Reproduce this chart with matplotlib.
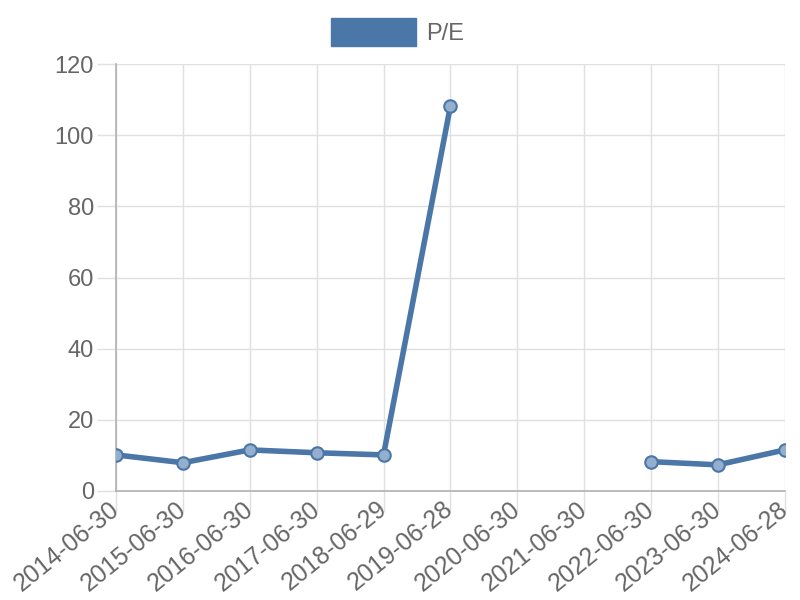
import numpy as np
import matplotlib.pyplot as plt
from matplotlib.patches import Patch

plt.rcParams['font.family'] = ['Liberation Sans', 'DejaVu Sans']

dates = ["2014-06-30", "2015-06-30", "2016-06-30", "2017-06-30", "2018-06-29",
         "2019-06-28", "2020-06-30", "2021-06-30", "2022-06-30", "2023-06-30",
         "2024-06-28"]
pe = [10.1, 7.9, 11.5, 10.7, 10.1, 108.2, np.nan, np.nan, 8.2, 7.3, 11.5]

line_color = "#4a76a8"
text_color = "#666666"

fig = plt.figure(figsize=(8, 6), dpi=100)
ax = fig.add_axes([0.145, 0.182, 0.836, 0.711])

x = np.arange(len(dates))
ax.plot(x, pe, color=line_color, linewidth=4, zorder=3)
ax.plot(x, pe, linestyle="none", marker="o", markersize=9,
        markerfacecolor="#94aecd", markeredgecolor=line_color,
        markeredgewidth=1.5, zorder=4)

ax.set_xlim(0, len(dates) - 1)
ax.set_ylim(0, 120)
ax.set_yticks(range(0, 121, 20))
ax.set_xticks(x)
ax.set_xticklabels(dates, rotation=39, ha="right", va="center",
                   rotation_mode="anchor")

ax.grid(True, color="#e0e0e0", linewidth=1)
ax.set_axisbelow(True)
for side in ["top", "right"]:
    ax.spines[side].set_visible(False)
for side in ["left", "bottom"]:
    ax.spines[side].set_color("#b0b0b0")
    ax.spines[side].set_linewidth(1.2)
ax.tick_params(axis="both", colors="#e0e0e0", labelcolor=text_color,
               labelsize=17, width=1)
ax.tick_params(axis="x", labelsize=17.8)
ax.tick_params(axis="y", length=14, pad=2)
ax.tick_params(axis="x", length=15, pad=-4)
ax.xaxis.get_ticklines()[0].set_color("#b0b0b0")
ax.yaxis.get_ticklines()[0].set_color("#b0b0b0")

fig.legend(handles=[Patch(facecolor=line_color, edgecolor=line_color)],
           labels=["P/E"], loc="upper center", bbox_to_anchor=(0.497, 1.005),
           frameon=False, fontsize=17, labelcolor=text_color,
           handlelength=3.6, handleheight=1.4, handletextpad=0.45)

fig.savefig("out.png", dpi=100)
